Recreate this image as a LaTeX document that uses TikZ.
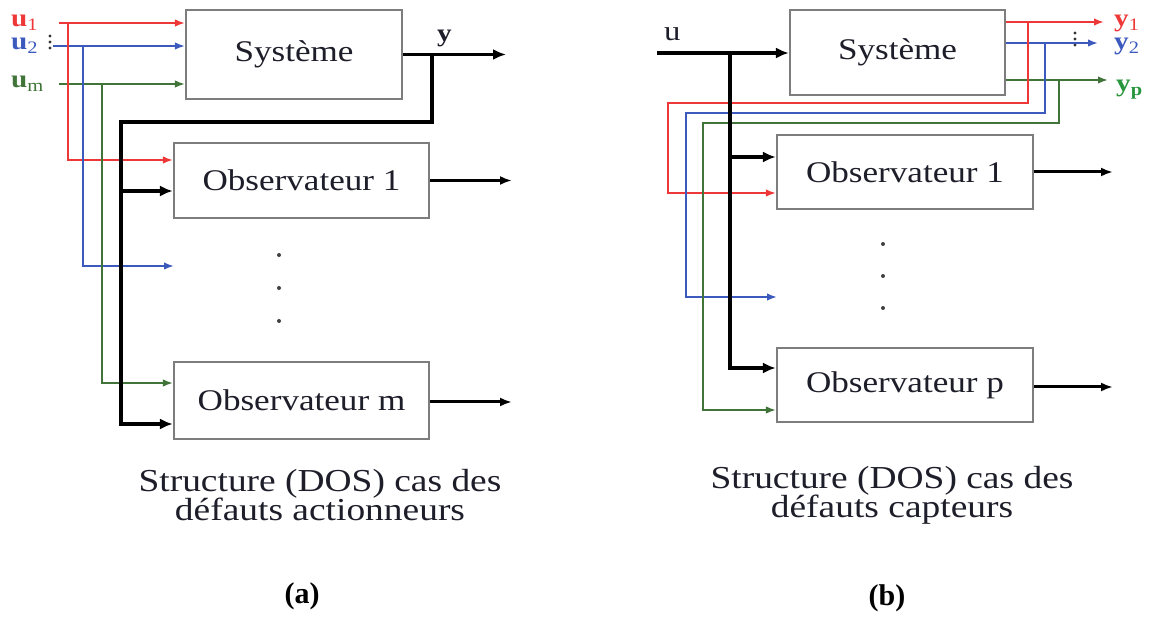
\documentclass[tikz,border=0pt]{standalone}
\usepackage{fontspec}
\setmainfont{Liberation Serif}
\newfontfamily\figfont{Liberation Serif}[FakeStretch=1.17]
\usetikzlibrary{arrows.meta}

\definecolor{sigred}{RGB}{238,56,56}
\definecolor{sigblue}{RGB}{60,90,190}
\definecolor{siggreen}{RGB}{64,116,56}
\definecolor{labgreen}{RGB}{40,150,60}
\definecolor{boxgray}{RGB}{125,125,125}
\definecolor{textgray}{RGB}{30,30,42}

\begin{document}
\begin{tikzpicture}[x=1pt,y=-1pt,
  block/.style={draw=boxgray,line width=2.2pt,fill=white,inner sep=0pt,
    text=textgray,font=\figfont\fontsize{30}{36}\selectfont},
  sig/.style={line width=1.7pt,-{Latex[length=10pt,width=7.5pt]}},
  bus/.style={line width=3.4pt,-{Latex[length=13pt,width=11pt]}},
  obsout/.style={line width=3pt,-{Latex[length=12pt,width=9pt]}},
  lab/.style={inner sep=0pt,anchor=base west,font=\figfont\fontsize{25}{30}\selectfont\bfseries},
  caption/.style={inner sep=0pt,anchor=base,text=textgray,font=\figfont\fontsize{32}{29}\selectfont},
  panel/.style={inner sep=0pt,anchor=base,font=\fontsize{30}{36}\selectfont\bfseries},
  dot/.style={circle,fill=black!75,inner sep=0pt,minimum size=4pt},
  sdot/.style={circle,fill=black!80,inner sep=0pt,minimum size=3.2pt}
]
\useasboundingbox (0,0) rectangle (1154,617);

% ---------------- (a) actuator faults ----------------
\node[block,minimum width=216pt,minimum height=89pt] (sysA) at (294,54.5) {Système};
\node[block,minimum width=255pt,minimum height=75pt] (obsA1) at (301.5,180.5) {Observateur 1};
\node[block,minimum width=255pt,minimum height=77pt] (obsAm) at (301.5,400.5) {Observateur m};

\node[lab,text=sigred] (lu1) at (11,27) {u\textsubscript{\mdseries 1}};
\node[lab,text=sigblue] (lu2) at (11,50) {u\textsubscript{\mdseries 2}};
\node[lab,text=siggreen] (lum) at (11,88) {u\textsubscript{\mdseries m}};
\node[sdot] (da1) at (50,36) {};
\node[sdot] (da2) at (50,42) {};
\node[sdot] (da3) at (50,48) {};
\node[lab,text=textgray] (ly) at (437,42) {y};

\coordinate (u1) at (59,23);
\coordinate (u2) at (53,46);
\coordinate (um) at (59,84);
\coordinate (rA) at (68,23);
\coordinate (bA) at (83,46);
\coordinate (gA) at (102,84);
\coordinate (rAy) at (0,160);
\coordinate (bAend) at (174,266);
\coordinate (gAy) at (0,383);

\draw[sig,sigred] (u1) -- (sysA.west |- u1);
\draw[sig,sigblue] (u2) -- (sysA.west |- u2);
\draw[sig,siggreen] (um) -- (sysA.west |- um);
\draw[sig,sigred] (rA) |- (obsA1.west |- rAy);
\draw[sig,sigblue] (bA) |- (bAend);
\draw[sig,siggreen] (gA) |- (obsAm.west |- gAy);

% output y and its feedback bus to every observer
\coordinate (yA) at (506,54.5);
\coordinate (fA) at (432,54.5);
\coordinate (fAc) at (121,122);
\coordinate (kA1) at (121,191);
\coordinate (kAm) at (0,424);
\draw[bus] (sysA.east) -- (yA);
\draw[bus] (fA) |- (fAc) |- (obsAm.west |- kAm);
\draw[bus] (kA1) -- (obsA1.west |- kA1);

\coordinate (oA1) at (512,180.5);
\coordinate (oAm) at (512,402);
\draw[obsout] (obsA1.east) -- (oA1);
\draw[obsout] (obsAm.east |- oAm) -- (oAm);

\node[dot] (va1) at (279,255) {};
\node[dot] (va2) at (279,288) {};
\node[dot] (va3) at (279,321) {};

\node[caption] (capA1) at (320,491) {Structure (DOS) cas des};
\node[caption] (capA2) at (320,520) {défauts actionneurs};
\node[panel] (pa) at (302,603) {(a)};

% ---------------- (b) sensor faults ----------------
\node[block,minimum width=215pt,minimum height=85pt] (sysB) at (897.5,52.5) {Système};
\node[block,minimum width=256pt,minimum height=74pt] (obsB1) at (905,172) {Observateur 1};
\node[block,minimum width=256pt,minimum height=74pt] (obsBp) at (905,385) {Observateur p};

\node[inner sep=0pt,anchor=base west,text=textgray,font=\figfont\fontsize{28}{32}\selectfont] (lu) at (664,41) {u};
\node[lab,text=sigred] (ly1) at (1114,27) {y\textsubscript{\mdseries 1}};
\node[lab,text=sigblue] (ly2) at (1114,50) {y\textsubscript{\mdseries 2}};
\node[lab,text=labgreen] (lyp) at (1116,92) {y\textsubscript{p}};
\node[sdot] (db1) at (1075,33) {};
\node[sdot] (db2) at (1075,39) {};
\node[sdot] (db3) at (1075,45) {};

\coordinate (uB) at (657,53);
\coordinate (y1B) at (1104,22);
\coordinate (y2B) at (1098,43);
\coordinate (ypB) at (1108,80);
\coordinate (rB) at (1028,22);
\coordinate (bB) at (1045,43);
\coordinate (gB) at (1059,80);
\coordinate (rBc) at (668,103);
\coordinate (bBc) at (686,113);
\coordinate (gBc) at (703,123);
\coordinate (rBy) at (0,193);
\coordinate (bBend) at (777,297);
\coordinate (gBy) at (0,410);

\draw[sig,sigred] (sysB.east |- y1B) -- (y1B);
\draw[sig,sigblue] (sysB.east |- y2B) -- (y2B);
\draw[sig,siggreen] (sysB.east |- ypB) -- (ypB);
\draw[sig,sigred] (rB) |- (rBc) |- (obsB1.west |- rBy);
\draw[sig,sigblue] (bB) |- (bBc) |- (bBend);
\draw[sig,siggreen] (gB) |- (gBc) |- (obsBp.west |- gBy);

% input u and its bus to every observer
\coordinate (jB) at (730,53);
\coordinate (kB1) at (730,157);
\coordinate (kBp) at (0,368);
\draw[bus] (uB) -- (sysB.west |- uB);
\draw[bus] (jB) |- (obsBp.west |- kBp);
\draw[bus] (kB1) -- (obsB1.west |- kB1);

\coordinate (oB1) at (1113,172);
\coordinate (oBp) at (1113,387);
\draw[obsout] (obsB1.east) -- (oB1);
\draw[obsout] (obsBp.east |- oBp) -- (oBp);

\node[dot] (vb1) at (883,244) {};
\node[dot] (vb2) at (883,276) {};
\node[dot] (vb3) at (883,308) {};

\node[caption] (capB1) at (892,488) {Structure (DOS) cas des};
\node[caption] (capB2) at (892,517) {défauts capteurs};
\node[panel] (pb) at (887,605) {(b)};
\end{tikzpicture}
\end{document}
